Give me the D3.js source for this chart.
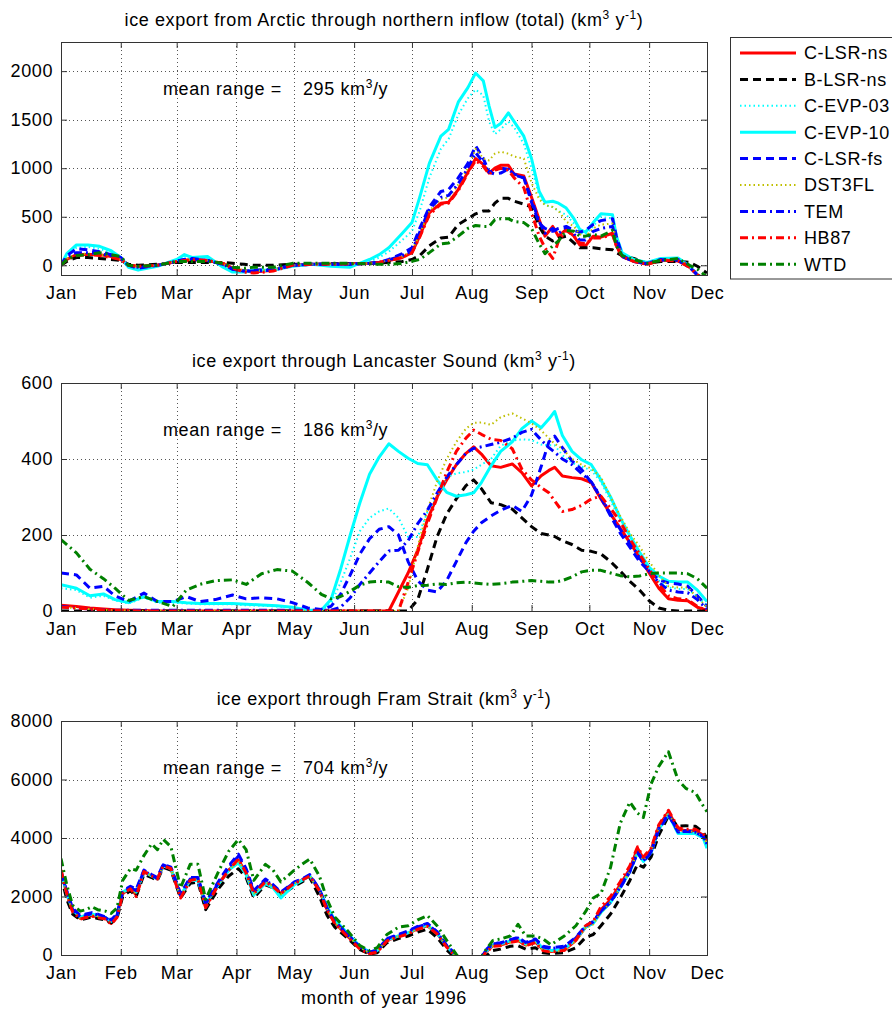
<!DOCTYPE html>
<html>
<head>
<meta charset="utf-8">
<script src="https://cdn.jsdelivr.net/npm/d3@7"></script>
<style>
  body { margin: 0; background: #fff; }
  svg text { font-family: "Liberation Sans", Arial, Helvetica, sans-serif; font-size: 18px; fill: #000; letter-spacing: 0.6px; }
</style>
</head>
<body>
<svg id="chart" width="892" height="1014"></svg>
<script>
// ---- data (day of year 1996, km^3/y) ----
const SERIES = ['C-LSR-ns', 'B-LSR-ns', 'C-EVP-03', 'C-EVP-10', 'C-LSR-fs', 'DST3FL', 'TEM', 'HB87', 'WTD'];
const MONTH_LABELS = ['Jan', 'Feb', 'Mar', 'Apr', 'May', 'Jun', 'Jul', 'Aug', 'Sep', 'Oct', 'Nov', 'Dec'];

// panel 1: northern inflow (total)
const P1_DAYS = [0,3,8,14,20,26,31,35,40,50, 60,64,68,76,84,89,95,100,110,120, 130,140,150,160,165,170,177,182,186,191, 197,201,206,211,215,219,222,225,228,232, 235,240,244,248,251,255,258,262,266,269, 272,276,280,286,288,291,297,304,311,320, 326,330,335];
const P1_CLSRNS = [0,60,110,110,110,90,60,0,-10,0, 40,50,60,50,20,-30,-60,-70,-50,0, 10,10,15,20,30,50,80,130,300,540, 640,650,780,960,1100,1040,950,1000,1030,1030, 940,920,700,470,300,400,300,370,300,210, 200,300,290,330,200,90,40,10,55,45, -20,-100,-150];
const P1_BLSRNS = [0,40,80,80,70,60,50,10,0,10, 30,30,30,30,30,20,10,0,0,10, 10,15,15,20,25,30,40,60,100,200, 280,290,420,480,530,560,560,640,690,690, 660,630,600,400,300,250,280,300,230,180, 180,180,170,160,130,100,70,20,40,40, 30,-10,-80];
const P1_CEVP03 = [0,100,180,190,170,130,70,-10,-40,0, 50,90,70,70,-10,-60,-60,-50,-40,-10, 10,0,-10,40,80,140,260,350,560,900, 1200,1300,1550,1720,1810,1750,1480,1350,1400,1480, 1420,1250,1000,720,620,600,560,520,430,340, 320,400,500,480,280,120,60,30,70,70, -10,-100,-150];
const P1_CEVP10 = [0,120,210,210,195,150,80,-20,-50,-10, 60,110,80,90,-20,-70,-70,-50,-50,-10, 10,-10,-20,60,110,180,330,440,700,1050, 1330,1400,1680,1830,1980,1900,1640,1420,1460,1570, 1480,1330,1100,760,650,660,640,590,480,370, 340,440,530,520,300,130,60,30,70,75, -10,-100,-150];
const P1_CLSRFS = [0,100,170,160,140,110,80,0,-30,0, 40,60,70,50,10,-40,-60,-50,-40,0, 10,10,10,20,30,60,120,180,380,600, 760,780,900,1050,1230,1100,960,940,950,990, 940,900,650,430,380,350,380,400,360,340, 360,420,460,480,300,100,40,20,60,60, -10,-100,-150];
const P1_DST3FL = [0,70,120,120,110,90,60,0,-10,0, 40,50,60,50,20,-30,-50,-60,-40,0, 10,10,15,20,30,50,90,150,320,560, 680,700,830,1000,1200,1100,1080,1150,1170,1150, 1120,1100,850,680,620,600,560,450,400,320, 300,380,420,430,250,100,50,20,60,60, 0,-90,-150];
const P1_TEM = [0,80,130,130,120,100,70,0,-20,0, 40,60,60,50,10,-40,-60,-60,-50,0, 10,10,15,20,30,55,100,150,340,580, 700,720,840,1000,1160,1060,960,980,1000,990, 930,900,680,450,330,380,330,380,320,260, 260,350,380,400,250,90,40,15,55,50, -20,-100,-150];
const P1_HB87 = [0,60,100,110,100,80,60,0,-10,0, 40,50,60,50,20,-30,-70,-80,-60,0, 10,10,15,20,30,50,80,130,290,520, 630,640,770,950,1080,1020,940,980,1000,980, 900,800,540,300,180,70,250,360,300,230, 220,280,280,320,200,90,40,10,50,45, -20,-100,-150];
const P1_WTD = [0,60,100,110,130,110,90,0,-10,0, 40,40,40,40,20,-20,-30,-20,-20,20, 20,20,20,15,10,10,20,40,60,130, 220,230,300,380,410,400,400,470,480,480, 450,440,380,220,120,200,250,360,350,300, 300,320,300,360,200,100,60,20,50,70, 0,-40,-120];

// panel 2: Lancaster Sound
const P2_DAYS = [0,8,15,22,28,35,43,50,58,65, 72,80,89,96,104,112,120,128,135,140, 145,150,155,160,165,170,175,180,185,190, 195,200,205,210,214,218,223,228,234,239, 244,249,253,256,260,265,270,275,280,285, 290,295,300,305,310,315,320,325,330,335];
const P2_CLSRNS = [15,12,8,5,3,2,1,0,0,0, 0,0,0,0,0,0,0,0,0,0, 0,0,0,0,0,0,50,100,160,240, 300,345,385,415,432,413,382,378,387,364, 329,356,370,378,355,351,348,338,295,255, 218,180,142,100,60,32,28,27,10,2];
const P2_BLSRNS = [0,0,0,0,0,0,0,0,0,0, 0,0,0,0,0,0,0,0,0,0, 0,0,0,0,0,0,0,0,30,110, 195,255,295,330,345,322,285,280,268,245, 222,204,200,196,185,175,160,157,150,130, 105,78,55,27,8,2,0,0,0,0];
const P2_CEVP03 = [60,55,35,40,28,20,35,22,22,20, 18,18,18,15,14,12,8,2,2,20, 75,140,210,245,262,270,245,195,195,260, 300,352,362,366,372,385,400,435,448,452, 450,438,436,436,410,390,380,370,340,290, 240,195,155,110,80,62,58,58,38,15];
const P2_CEVP10 = [69,60,40,45,30,22,38,25,25,22, 20,20,20,18,16,14,10,2,2,30, 110,200,285,360,405,440,420,402,388,385, 345,312,302,306,311,338,382,420,445,480, 500,482,505,525,462,420,398,385,345,300, 245,198,155,115,92,78,76,76,55,25];
const P2_CLSRFS = [100,95,60,65,40,25,47,25,25,38, 25,30,42,32,35,32,22,8,4,12, 44,95,150,190,215,222,200,130,80,55, 50,80,130,180,210,232,250,265,278,262, 305,380,445,460,430,395,372,338,298,250, 205,168,130,105,82,74,71,65,40,12];
const P2_DST3FL = [10,8,5,3,2,1,0,0,0,0, 0,0,0,0,0,0,0,0,0,0, 0,0,0,0,0,0,0,60,170,265, 340,400,445,480,495,496,490,510,520,507, 494,475,455,440,427,400,385,375,352,300, 250,205,170,130,95,65,62,62,35,10];
const P2_TEM = [12,8,5,3,2,2,2,2,2,2, 2,2,2,2,2,2,2,2,2,2, 10,35,70,100,130,158,160,185,230,265, 310,352,385,415,428,432,438,444,455,470, 478,450,430,418,400,385,362,340,300,255, 215,180,140,105,75,55,50,48,30,5];
const P2_HB87 = [10,8,5,3,2,1,0,0,0,0, 0,0,0,0,0,0,0,0,0,0, 0,0,0,0,0,0,0,75,155,230, 298,365,420,455,476,465,452,449,427,373, 345,325,311,290,262,267,278,295,302,270, 235,190,150,110,70,40,32,30,12,2];
const P2_WTD = [188,153,110,85,60,28,38,25,12,55, 70,80,82,70,98,109,105,75,44,32, 38,52,68,76,78,76,64,62,67,68, 71,70,74,76,74,72,70,72,76,78, 80,78,76,76,80,90,103,107,107,100, 93,90,92,98,100,100,100,98,85,60];

// panel 3: Fram Strait
const P3_DAYS = [0,3,6,10,13,16,19,23,26,29, 32,36,39,43,47,50,53,57,62,67, 71,75,82,87,92,96,100,106,110,114, 121,125,129,134,138,142,149,155,160,164, 169,175,180,185,190,195,200,205,210,216, 220,224,228,233,237,241,246,250,254,261, 267,272,276,280,285,290,295,299,302,306, 310,315,320,324,329,333,335];
const P3_CLSRNS = [2900,2100,1500,1250,1300,1350,1300,1250,1080,1300, 2100,2280,2050,2850,2700,2600,3050,2950,2000,2550, 2600,1650,2450,2900,3250,2800,2100,2500,2330,2100, 2450,2560,2700,2200,1550,1100,620,230,60,120, 500,640,740,900,1000,740,290,-50,-500,-200, 80,320,340,450,500,340,450,180,120,170, 500,950,1100,1550,1900,2400,2950,3650,3300,3600, 4400,4900,4300,4250,4250,4100,3900];
const P3_BLSRNS = [2700,1900,1400,1200,1250,1300,1250,1200,1100,1250, 2000,2200,2000,2750,2650,2550,3000,2900,1950,2450, 2500,1550,2300,2700,2950,2650,1950,2400,2300,2050, 2350,2500,2650,2000,1350,950,550,180,30,80, 420,560,650,780,880,600,180,-150,-600,-400, -50,150,200,300,320,200,250,80,50,80, 250,600,700,1000,1400,1950,2550,3100,3000,3350, 4100,4750,4400,4420,4400,4200,4000];
const P3_CEVP03 = [2850,2150,1550,1300,1350,1400,1350,1260,1120,1330, 2150,2300,2120,2870,2700,2600,3050,2950,2030,2560, 2580,1720,2450,2900,3200,2770,2080,2470,2310,2000, 2420,2550,2700,2230,1600,1150,680,270,80,140, 510,640,750,910,1010,750,300,-50,-450,-300, 100,340,370,470,530,370,480,200,140,190, 520,960,1090,1480,1820,2320,2880,3550,3250,3550, 4320,4820,4200,4180,4180,4030,3700];
const P3_CEVP10 = [2850,2100,1550,1300,1350,1400,1350,1280,1150,1350, 2150,2300,2150,2850,2700,2600,3050,2950,2050,2550, 2550,1750,2450,2900,3150,2750,2050,2450,2300,1950, 2400,2550,2700,2250,1650,1200,720,300,100,150, 520,650,760,920,1020,750,300,-50,-450,-300, 100,350,380,480,540,380,500,220,150,200, 540,950,1080,1450,1800,2300,2850,3500,3200,3500, 4300,4800,4150,4150,4150,4000,3650];
const P3_CLSRFS = [2800,2200,1600,1350,1400,1450,1400,1300,1200,1400, 2200,2350,2250,2900,2750,2650,3100,3000,2100,2650, 2650,1800,2550,3050,3450,2950,2200,2600,2400,2150, 2500,2600,2750,2250,1600,1150,680,280,100,170, 560,700,820,980,1080,800,330,0,-400,-300, 150,400,420,520,600,430,550,300,250,300, 600,1000,1150,1500,1800,2300,2850,3500,3200,3500, 4300,4800,4200,4250,4200,4050,3800];
const P3_DST3FL = [2800,2050,1500,1250,1300,1370,1320,1250,1100,1320, 2120,2280,2100,2850,2700,2600,3050,2950,2000,2550, 2600,1700,2450,2900,3200,2800,2100,2500,2330,2080, 2450,2560,2700,2200,1550,1100,640,250,70,130, 500,640,740,900,1000,740,290,-50,-450,-300, 80,320,330,430,480,320,420,160,100,150, 480,920,1050,1450,1800,2300,2850,3550,3250,3550, 4350,4850,4250,4250,4200,4050,3800];
const P3_TEM = [2850,2150,1550,1300,1350,1420,1370,1280,1150,1350, 2150,2300,2200,2880,2720,2620,3080,2980,2050,2600, 2620,1750,2500,3000,3380,2900,2150,2550,2380,2120, 2480,2580,2720,2230,1580,1130,660,260,90,160, 540,680,800,960,1060,780,310,-20,-400,-300, 120,380,400,500,580,400,520,270,220,270, 580,980,1130,1500,1820,2320,2880,3520,3220,3520, 4320,4820,4220,4230,4200,4060,3800];
const P3_HB87 = [2900,2100,1480,1230,1280,1330,1280,1230,1050,1280, 2100,2260,2000,2850,2700,2600,3050,2950,1950,2550, 2600,1620,2450,2900,3280,2800,2100,2500,2330,2100, 2450,2560,2700,2200,1530,1080,600,200,40,100, 480,620,720,880,980,720,270,-80,-500,-300, 60,300,320,430,480,320,420,150,100,160, 520,1000,1150,1650,2000,2500,3050,3700,3350,3650, 4450,4950,4350,4300,4300,4150,3950];
const P3_WTD = [3300,2400,1700,1500,1550,1650,1550,1500,1420,1600, 2550,2950,2900,3400,3800,3600,3950,3700,2300,3100, 3100,1900,2900,3550,3950,3600,2550,3100,2900,2500, 2900,3100,3280,2700,1900,1300,800,320,150,250, 700,950,1000,1200,1350,1000,500,20,-400,-300, 150,500,550,650,1050,650,650,550,350,650, 1000,1480,1950,2100,3000,4500,5230,4850,4700,5850, 6450,6950,5980,5700,5550,5100,4900];

const P1_TICKS = [0, 500, 1000, 1500, 2000];
const P2_TICKS = [0, 200, 400, 600];
const P3_TICKS = [0, 2000, 4000, 6000, 8000];

// ---- styles ----
const STYLE = {
  'C-LSR-ns': { color: '#ff0000', width: 3, dash: null },
  'B-LSR-ns': { color: '#000000', width: 3, dash: '8,5' },
  'C-EVP-03': { color: '#00ffff', width: 2, dash: '1.5,3' },
  'C-EVP-10': { color: '#00ffff', width: 3, dash: null },
  'C-LSR-fs': { color: '#0000ff', width: 3, dash: '8,5' },
  'DST3FL':   { color: '#bfbf00', width: 2, dash: '1.5,3' },
  'TEM':      { color: '#0000ff', width: 3, dash: '8,4,2,4' },
  'HB87':     { color: '#ff0000', width: 3, dash: '8,4,2,4' },
  'WTD':      { color: '#008000', width: 3, dash: '8,4,2,4' }
};

const panels = [
  { title: ['ice export from Arctic through northern inflow (total) (km', '3', ' y', '-1', ')'],
    top: 42, bottom: 275, domain: [-100, 2300], ticks: P1_TICKS, mean: '295', days: P1_DAYS,
    values: [P1_CLSRNS, P1_BLSRNS, P1_CEVP03, P1_CEVP10, P1_CLSRFS, P1_DST3FL, P1_TEM, P1_HB87, P1_WTD] },
  { title: ['ice export through Lancaster Sound (km', '3', ' y', '-1', ')'],
    top: 383, bottom: 611, domain: [0, 600], ticks: P2_TICKS, mean: '186', days: P2_DAYS,
    values: [P2_CLSRNS, P2_BLSRNS, P2_CEVP03, P2_CEVP10, P2_CLSRFS, P2_DST3FL, P2_TEM, P2_HB87, P2_WTD] },
  { title: ['ice export through Fram Strait (km', '3', ' y', '-1', ')'],
    top: 721, bottom: 955, domain: [0, 8000], ticks: P3_TICKS, mean: '704', days: P3_DAYS,
    values: [P3_CLSRNS, P3_BLSRNS, P3_CEVP03, P3_CEVP10, P3_CLSRFS, P3_DST3FL, P3_TEM, P3_HB87, P3_WTD] }
];

const left = 61, right = 707;
const t0 = new Date(Date.UTC(1996, 0, 1));
const t1 = new Date(Date.UTC(1996, 11, 1));
const toDate = d => d3.utcDay.offset(t0, d);

const svg = d3.select('#chart');
const x = d3.scaleUtc().domain([t0, t1]).range([left, right]);
const monthTicks = d3.utcMonth.range(t0, d3.utcDay.offset(t1, 1));

// superscript helper
function addRich(textSel, parts) {
  parts.forEach((p, i) => {
    const sup = i % 2 === 1;
    textSel.append('tspan')
      .attr('dy', sup ? -7 : (i > 0 ? 7 : 0))
      .style('font-size', sup ? '12px' : null)
      .text(p);
  });
}

panels.forEach((p, pi) => {
  const y = d3.scaleLinear().domain(p.domain).range([p.bottom, p.top]);
  const g = svg.append('g');

  // grid
  g.append('g').selectAll('line')
    .data(p.ticks.filter(t => y(t) > p.top + 1 && y(t) < p.bottom - 1))
    .join('line')
    .attr('x1', left).attr('x2', right)
    .attr('y1', d => Math.round(y(d)) + 0.5).attr('y2', d => Math.round(y(d)) + 0.5)
    .attr('stroke', '#555').attr('stroke-dasharray', '1,3');
  g.append('g').selectAll('line')
    .data(monthTicks.slice(1, -1))
    .join('line')
    .attr('x1', d => Math.round(x(d)) + 0.5).attr('x2', d => Math.round(x(d)) + 0.5)
    .attr('y1', p.top).attr('y2', p.bottom)
    .attr('stroke', '#555').attr('stroke-dasharray', '1,3');

  // lines
  const clipId = 'clip' + pi;
  svg.append('clipPath').attr('id', clipId)
    .append('rect').attr('x', left).attr('y', p.top).attr('width', right - left).attr('height', p.bottom - p.top);

  const line = d3.line().x(d => x(d.date)).y(d => y(d.v));
  const lg = g.append('g').attr('clip-path', `url(#${clipId})`);
  SERIES.forEach((name, si) => {
    const st = STYLE[name];
    const pts = p.days.map((d, i) => ({ date: toDate(d), v: p.values[si][i] }));
    lg.append('path')
      .datum(pts)
      .attr('d', line)
      .attr('fill', 'none')
      .attr('stroke', st.color)
      .attr('stroke-width', st.width)
      .attr('stroke-dasharray', st.dash)
      .attr('stroke-linejoin', 'round');
  });

  // axes
  const axCol = '#333';
  const gx = g.append('g').attr('transform', `translate(0,${p.bottom})`)
    .call(d3.axisBottom(x).tickValues(monthTicks).tickFormat((d, i) => MONTH_LABELS[i])
      .tickSizeInner(-6).tickSizeOuter(0).tickPadding(11));
  const gxt = g.append('g').attr('transform', `translate(0,${p.top})`)
    .call(d3.axisTop(x).tickValues(monthTicks).tickFormat('').tickSizeInner(-6).tickSizeOuter(0));
  const gy = g.append('g').attr('transform', `translate(${left},0)`)
    .call(d3.axisLeft(y).tickValues(p.ticks).tickFormat(d3.format('d'))
      .tickSizeInner(-6).tickSizeOuter(0).tickPadding(8));
  const gyr = g.append('g').attr('transform', `translate(${right},0)`)
    .call(d3.axisRight(y).tickValues(p.ticks).tickFormat('').tickSizeInner(-6).tickSizeOuter(0));
  [gx, gxt, gy, gyr].forEach(a => {
    a.select('.domain').remove();
    a.selectAll('line').attr('stroke', axCol);
    a.selectAll('text').style('font-size', '18px').attr('fill', '#000');
  });
  g.append('rect')
    .attr('x', left + 0.5).attr('y', p.top + 0.5)
    .attr('width', right - left).attr('height', p.bottom - p.top)
    .attr('fill', 'none').attr('stroke', axCol);

  // title
  const title = g.append('text')
    .attr('x', (left + right) / 2).attr('y', p.top - 16)
    .attr('text-anchor', 'middle');
  addRich(title, p.title);

  // mean range annotation
  g.append('text').attr('x', 163).attr('y', p.top + 53).text('mean range =');
  addRich(g.append('text').attr('x', 303).attr('y', p.top + 53), [p.mean + ' km', '3', '/y']);
});

// x label
svg.append('text')
  .attr('x', (left + right) / 2).attr('y', 1004)
  .attr('text-anchor', 'middle')
  .text('month of year 1996');

// legend
const leg = svg.append('g');
leg.append('rect')
  .attr('x', 730.5).attr('y', 37.5).attr('width', 200).attr('height', 241.5)
  .attr('fill', '#fff').attr('stroke', '#333');
SERIES.forEach((name, i) => {
  const st = STYLE[name];
  const yy = 53 + i * 26.4;
  leg.append('line')
    .attr('x1', 740).attr('x2', 796).attr('y1', yy).attr('y2', yy)
    .attr('stroke', st.color).attr('stroke-width', st.width)
    .attr('stroke-dasharray', st.dash);
  leg.append('text')
    .attr('x', 804).attr('y', yy).attr('dy', '0.35em')
    .text(name);
});
</script>
</body>
</html>
